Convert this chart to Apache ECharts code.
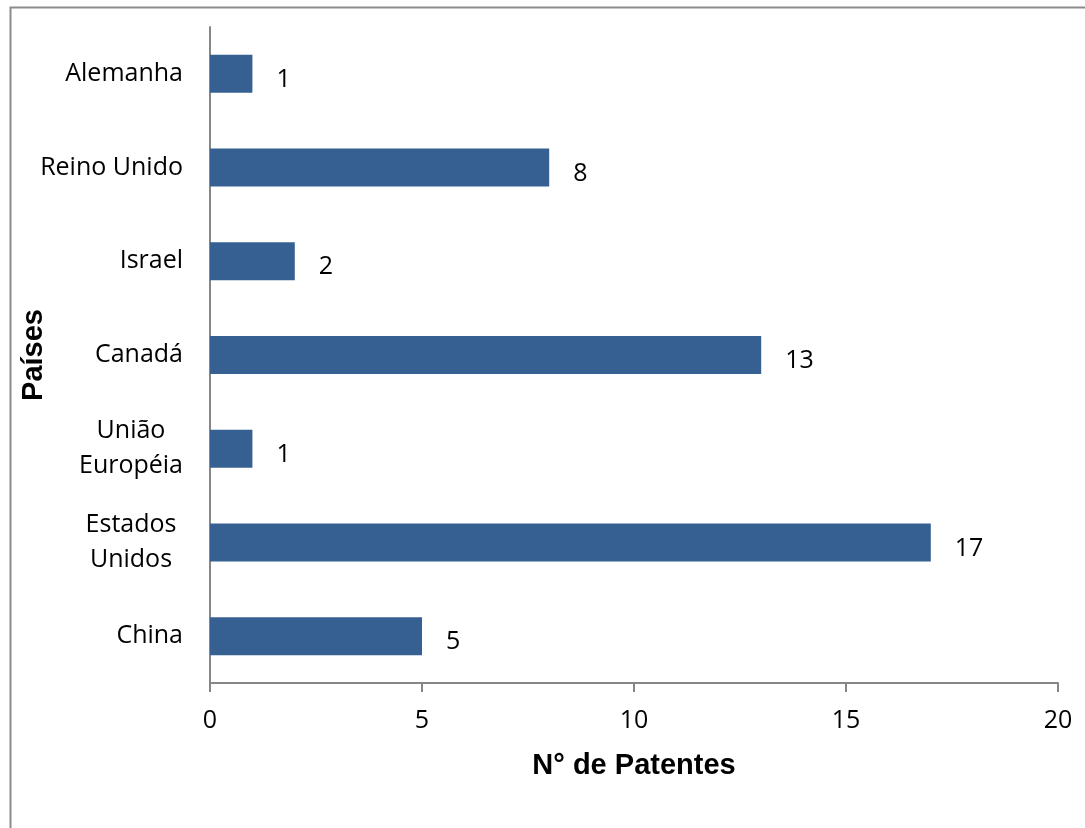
<!DOCTYPE html>
<html>
<head>
<meta charset="utf-8">
<script src="https://cdn.jsdelivr.net/npm/echarts@6/dist/echarts.min.js"></script>
<style>html,body{margin:0;padding:0;background:#fff}#c{width:1085px;height:828px}</style>
</head>
<body>
<div id="c"></div>
<script>
const categories = ['China', 'Estados\nUnidos', 'União\nEuropéia', 'Canadá', 'Israel', 'Reino Unido', 'Alemanha'];
const values = [5, 17, 1, 13, 2, 8, 1];
const xTicks = [0, 5, 10, 15, 20];
const xTitle = 'N° de Patentes';
const yTitle = 'Países';

const chart = echarts.init(document.getElementById('c'));
chart.setOption({
  backgroundColor: '#fff',
  animation: false,
  graphic: [{
    type: 'rect', left: 8, top: 5,
    shape: { width: 1200, height: 1000 },
    style: { fill: 'none', stroke: '#8c8c8c', lineWidth: 2 }
  }],
  grid: { left: 210, right: 27, top: 27, bottom: 145, containLabel: false, outerBoundsMode: 'none' },
  xAxis: {
    type: 'value', min: xTicks[0], max: xTicks[xTicks.length - 1], interval: 5,
    name: xTitle, nameLocation: 'middle', nameGap: 68, nameMoveOverlap: false,
    nameTextStyle: { fontFamily: 'Liberation Sans', fontWeight: 'bold', fontSize: 29, color: '#000' },
    axisLine: { show: true, lineStyle: { color: '#868686', width: 2 } },
    axisTick: { show: true, length: 9, lineStyle: { color: '#868686', width: 2 } },
    axisLabel: { margin: 25, fontFamily: 'Open Sans', fontSize: 25, color: '#000' },
    splitLine: { show: false }
  },
  yAxis: {
    type: 'category', data: categories,
    name: yTitle, nameLocation: 'middle', nameGap: 162, nameRotate: 90, nameMoveOverlap: false,
    nameTextStyle: { fontFamily: 'Liberation Sans', fontWeight: 'bold', fontSize: 29, color: '#000' },
    axisLine: { show: true, lineStyle: { color: '#868686', width: 2 } },
    axisTick: { show: false },
    axisLabel: {
      margin: 27, fontFamily: 'Open Sans', fontSize: 25, color: '#000', lineHeight: 35,
      formatter: function (v) {
        if (v.indexOf('\n') < 0) return v;
        return v.split('\n').map(s => '{c|' + s + '}').join('\n');
      },
      rich: { c: { width: 104, align: 'center', fontFamily: 'Open Sans', fontSize: 25, lineHeight: 35, color: '#000' } }
    }
  },
  series: [{
    type: 'bar', data: values, barWidth: 38,
    itemStyle: { color: '#376092' },
    label: {
      show: true, position: 'right', distance: 24, offset: [0, 6],
      fontFamily: 'Open Sans', fontSize: 25, color: '#000'
    }
  }]
});
</script>
</body>
</html>
